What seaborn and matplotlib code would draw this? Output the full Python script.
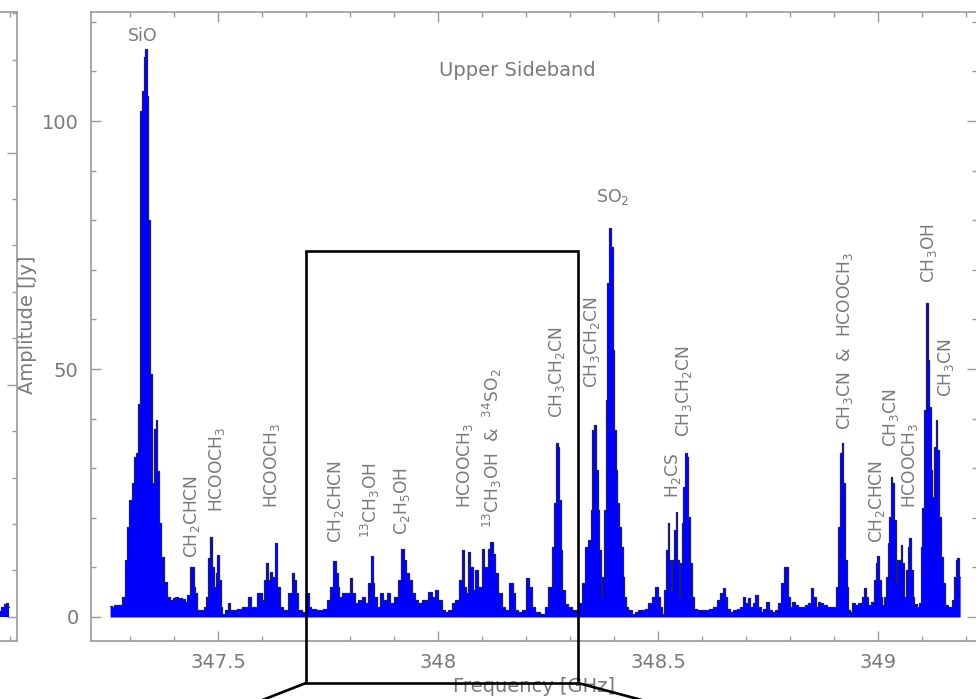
import matplotlib
matplotlib.use("Agg")
import matplotlib.pyplot as plt
import seaborn as sns
import pandas as pd
from matplotlib.ticker import MultipleLocator
from matplotlib.lines import Line2D
from matplotlib.patches import Rectangle

# ---------------- data ----------------
usb_freq = [
    347.254, 347.261, 347.267, 347.277, 347.286, 347.290, 347.295, 347.300, 347.306, 347.311,
    347.315, 347.320, 347.324, 347.329, 347.332, 347.336, 347.339, 347.343, 347.347, 347.352,
    347.356, 347.360, 347.363, 347.367, 347.373, 347.379, 347.386, 347.393, 347.399, 347.406,
    347.413, 347.420, 347.427, 347.433, 347.438, 347.442, 347.446, 347.449, 347.454, 347.463,
    347.470, 347.474, 347.478, 347.483, 347.488, 347.492, 347.496, 347.500, 347.504, 347.508,
    347.511, 347.520, 347.523, 347.530, 347.538, 347.549, 347.561, 347.572, 347.576, 347.583,
    347.595, 347.602, 347.606, 347.610, 347.614, 347.621, 347.625, 347.633, 347.636, 347.644,
    347.652, 347.663, 347.670, 347.674, 347.678, 347.686, 347.693, 347.704, 347.708, 347.715,
    347.731, 347.746, 347.750, 347.758, 347.765, 347.769, 347.773, 347.777, 347.784, 347.795,
    347.803, 347.807, 347.815, 347.822, 347.830, 347.837, 347.845, 347.849, 347.852, 347.856,
    347.864, 347.871, 347.879, 347.886, 347.894, 347.905, 347.913, 347.919, 347.924, 347.930,
    347.936, 347.943, 347.951, 347.958, 347.966, 347.974, 347.981, 347.989, 347.996, 348.004,
    348.011, 348.019, 348.027, 348.034, 348.042, 348.053, 348.057, 348.061, 348.065, 348.070,
    348.076, 348.080, 348.087, 348.095, 348.102, 348.106, 348.110, 348.116, 348.121, 348.127,
    348.133, 348.140, 348.148, 348.155, 348.167, 348.171, 348.178, 348.186, 348.193, 348.205,
    348.208, 348.216, 348.224, 348.239, 348.246, 348.254, 348.261, 348.265, 348.269, 348.273,
    348.277, 348.280, 348.284, 348.292, 348.299, 348.311, 348.318, 348.322, 348.330, 348.337,
    348.345, 348.349, 348.352, 348.356, 348.360, 348.364, 348.368, 348.371, 348.375, 348.379,
    348.383, 348.386, 348.390, 348.394, 348.398, 348.402, 348.405, 348.409, 348.413, 348.417,
    348.421, 348.424, 348.428, 348.436, 348.443, 348.451, 348.458, 348.466, 348.474, 348.481,
    348.489, 348.496, 348.502, 348.508, 348.511, 348.515, 348.519, 348.523, 348.527, 348.530,
    348.534, 348.538, 348.542, 348.545, 348.548, 348.552, 348.555, 348.559, 348.563, 348.567,
    348.570, 348.574, 348.578, 348.583, 348.595, 348.610, 348.621, 348.629, 348.636, 348.644,
    348.649, 348.654, 348.659, 348.667, 348.674, 348.682, 348.690, 348.695, 348.701, 348.707,
    348.712, 348.717, 348.724, 348.730, 348.735, 348.742, 348.748, 348.754, 348.761, 348.769,
    348.777, 348.783, 348.788, 348.793, 348.797, 348.803, 348.807, 348.815, 348.822, 348.830,
    348.837, 348.845, 348.850, 348.855, 348.860, 348.866, 348.871, 348.879, 348.886, 348.894,
    348.902, 348.907, 348.911, 348.915, 348.918, 348.922, 348.926, 348.930, 348.933, 348.937,
    348.943, 348.951, 348.958, 348.966, 348.970, 348.974, 348.980, 348.987, 348.993, 348.996,
    349.000, 349.004, 349.008, 349.011, 349.015, 349.019, 349.023, 349.027, 349.030, 349.034,
    349.038, 349.042, 349.045, 349.049, 349.053, 349.057, 349.061, 349.065, 349.068, 349.072,
    349.076, 349.080, 349.083, 349.091, 349.095, 349.099, 349.102, 349.106, 349.110, 349.114,
    349.117, 349.121, 349.125, 349.129, 349.133, 349.136, 349.140, 349.144, 349.148, 349.155,
    349.163, 349.171, 349.174, 349.178, 349.182, 349.186,
]
usb_amp = [
    2.2, 2.0, 2.4, 2.5, 4.1, 11.5, 18.2, 23.6, 27.0, 32.3,
    33.0, 43.0, 102.0, 106.0, 113.0, 114.5, 105.0, 80.0, 49.0, 27.0,
    38.0, 39.7, 29.5, 19.0, 12.0, 7.0, 4.0, 3.5, 3.8, 4.0,
    3.8, 3.6, 3.0, 4.5, 10.1, 10.0, 6.1, 4.8, 1.4, 1.4,
    2.0, 4.0, 11.8, 16.2, 10.0, 6.0, 8.8, 12.5, 7.5, 2.1,
    0.7, 1.4, 2.8, 1.5, 1.5, 1.6, 2.0, 4.1, 2.1, 2.1,
    4.8, 3.4, 7.5, 10.8, 7.5, 9.1, 8.0, 14.9, 6.1, 2.1,
    1.4, 4.8, 8.8, 7.5, 4.8, 1.4, 1.0, 4.8, 2.1, 1.6,
    1.5, 1.6, 3.4, 6.1, 11.2, 8.8, 6.1, 4.1, 4.8, 4.8,
    7.8, 4.8, 2.8, 3.4, 4.1, 2.8, 6.8, 12.2, 6.8, 4.1,
    2.1, 4.8, 3.4, 4.8, 2.8, 4.1, 7.5, 13.8, 11.5, 8.8,
    7.5, 4.8, 3.4, 2.8, 3.4, 3.4, 5.1, 4.1, 5.4, 3.4,
    1.4, 1.0, 1.4, 2.8, 3.4, 7.5, 13.5, 6.1, 4.8, 13.2,
    10.1, 5.4, 9.5, 6.1, 13.8, 10.1, 10.1, 13.8, 15.2, 12.8,
    8.8, 4.8, 2.1, 1.4, 6.8, 4.8, 1.4, 1.0, 1.4, 7.8,
    6.1, 2.1, 1.0, 0.7, 2.1, 6.1, 14.2, 22.9, 35.0, 34.3,
    23.5, 13.5, 5.4, 2.7, 2.1, 1.4, 1.1, 2.8, 6.8, 14.2,
    15.5, 21.6, 37.7, 38.7, 29.6, 21.6, 13.5, 4.1, 8.1, 21.6,
    43.8, 67.3, 78.4, 74.6, 53.8, 37.7, 29.6, 22.9, 18.2, 14.2,
    8.1, 4.1, 2.1, 1.4, 0.7, 1.1, 1.4, 1.4, 1.7, 2.8,
    4.1, 6.1, 4.1, 2.1, 0.7, 5.4, 13.5, 18.9, 11.5, 5.4,
    11.5, 17.5, 21.2, 11.5, 4.1, 10.8, 18.9, 26.3, 33.0, 32.3,
    20.2, 10.8, 4.1, 1.7, 1.4, 1.5, 1.7, 2.1, 3.4, 4.8,
    5.8, 4.1, 1.7, 1.1, 1.4, 1.7, 2.1, 4.1, 2.8, 3.8,
    2.1, 2.8, 4.4, 2.1, 1.1, 1.7, 3.1, 1.4, 1.1, 1.4,
    2.8, 6.8, 10.1, 10.1, 4.1, 2.1, 3.1, 2.4, 2.1, 2.1,
    2.4, 2.8, 5.8, 4.1, 2.1, 3.1, 2.8, 2.4, 2.1, 2.1,
    2.1, 6.1, 18.2, 33.0, 35.0, 27.0, 11.5, 6.1, 1.4, 1.1,
    2.8, 2.4, 2.8, 4.1, 5.8, 4.1, 2.4, 3.1, 7.4, 10.8,
    12.2, 7.4, 4.1, 2.4, 4.1, 8.1, 14.9, 20.2, 28.3, 27.0,
    19.5, 6.8, 11.5, 11.5, 14.5, 10.8, 4.1, 9.5, 14.2, 15.9,
    9.5, 4.1, 2.7, 2.1, 2.8, 14.2, 22.0, 41.7, 63.3, 51.8,
    42.3, 29.6, 24.2, 34.3, 39.7, 33.7, 20.2, 12.1, 6.9, 2.5,
    2.0, 3.5, 8.0, 11.5, 11.8, 8.0,
]
# edge of the neighbouring (lower sideband) panel, visible at the far left
lsb_freq = [339.172, 339.177, 339.182, 339.187, 339.192, 339.197]
lsb_amp = [1.0, 1.3, 2.2, 2.8, 3.0, 2.2]

line_labels = [
    r"CH$_2$CHCN", r"HCOOCH$_3$", r"HCOOCH$_3$", r"CH$_2$CHCN", r"$^{13}$CH$_3$OH",
    r"C$_2$H$_5$OH", r"HCOOCH$_3$", r"$^{13}$CH$_3$OH  &  $^{34}$SO$_2$", r"CH$_3$CH$_2$CN",
    r"CH$_3$CH$_2$CN", r"H$_2$CS", r"CH$_3$CH$_2$CN", r"CH$_3$CN  &  HCOOCH$_3$",
    r"CH$_2$CHCN", r"CH$_3$CN", r"HCOOCH$_3$", r"CH$_3$OH", r"CH$_3$CN",
]
line_freq = [
    347.440, 347.497, 347.622, 347.768, 347.845,
    347.918, 348.061, 348.124, 348.270,
    348.349, 348.533, 348.558, 348.924,
    348.997, 349.029, 349.072, 349.115, 349.154,
]
line_label_amp = [
    11.9, 21.2, 22.0, 14.9, 15.9,
    16.5, 22.0, 17.9, 40.1,
    46.2, 24.0, 36.3, 37.7,
    14.9, 34.3, 22.0, 67.3, 44.4,
]

# ---------------- style ----------------
sns.set_style("white")
plt.rcParams["font.family"] = ["DejaVu Sans"]
plt.rcParams["mathtext.default"] = "regular"
plt.rcParams["mathtext.fontset"] = "dejavusans"

GRAY_TXT = "#7a7a7a"
GRAY_AX = "#9a9a9a"
FILL = "#0000ff"
EDGE = "#1c1c70"

W, H = 976, 699
fig = plt.figure(figsize=(W / 100, H / 100), dpi=100)


def fx(px):
    return px / W


def fy(py):
    return 1 - py / H


def style_axes(a):
    for s in a.spines.values():
        s.set_color(GRAY_AX)
        s.set_linewidth(1.2)
    a.tick_params(which="both", direction="in", color=GRAY_AX, width=1.0,
                  labelcolor=GRAY_TXT, labelsize=14)
    a.tick_params(which="major", length=7.5)
    a.tick_params(which="minor", length=3.8)


# ---- neighbouring panel (only its right edge is visible) ----
ax0 = fig.add_axes([fx(17 - 886), fy(641), 886 / W, fy(12) - fy(641)])
df_l = pd.DataFrame({"freq": lsb_freq, "amp": lsb_amp})
ax0.fill_between(df_l["freq"], df_l["amp"], 0, step="mid", color=FILL, linewidth=0)
sns.lineplot(data=df_l, x="freq", y="amp", ax=ax0, color=EDGE, linewidth=0.9,
             drawstyle="steps-mid", legend=False)
ax0.set_xlim(337.20, 339.215)
ax0.set_ylim(-5.2, 130.3)
style_axes(ax0)
ax0.yaxis.set_major_locator(MultipleLocator(50))
ax0.yaxis.set_minor_locator(MultipleLocator(10))
ax0.xaxis.set_major_locator(MultipleLocator(0.5))
ax0.xaxis.set_minor_locator(MultipleLocator(0.1))
ax0.tick_params(which="both", left=False, right=True, top=True, bottom=True,
                labelleft=False, labelbottom=False)
ax0.set_xlabel("")
ax0.set_ylabel("")

# ---- main panel: upper sideband ----
ax = fig.add_axes([fx(91), fy(641), fx(977) - fx(91), fy(12) - fy(641)])
df = pd.DataFrame({"freq": usb_freq, "amp": usb_amp})
ax.fill_between(df["freq"], df["amp"], 0, step="mid", color=FILL, linewidth=0)
sns.lineplot(data=df, x="freq", y="amp", ax=ax, color=EDGE, linewidth=0.9,
             drawstyle="steps-mid", legend=False)

ax.set_xlim(347.2107, 349.2244)
ax.set_ylim(-4.84, 121.98)
style_axes(ax)
ax.xaxis.set_major_locator(MultipleLocator(0.5))
ax.xaxis.set_minor_locator(MultipleLocator(0.1))
ax.yaxis.set_major_locator(MultipleLocator(50))
ax.yaxis.set_minor_locator(MultipleLocator(10))
ax.tick_params(which="both", top=True, right=True, bottom=True, left=True)
ax.tick_params(axis="x", pad=9)
ax.tick_params(axis="y", pad=9)
ax.xaxis.set_major_formatter(plt.FuncFormatter(lambda v, p: f"{v:g}"))

ax.set_xlabel("Frequency [GHz]", fontsize=14, color=GRAY_TXT)
ax.set_ylabel("Amplitude [Jy]", fontsize=14, color=GRAY_TXT)
ax.xaxis.set_label_coords(0.5, -0.058)
ax.yaxis.set_label_coords(-0.061, 0.502)

ax.text(347.329, 117.1, "SiO", ha="center", va="center", fontsize=12.5, color=GRAY_TXT)
ax.text(348.179, 110.1, "Upper Sideband", ha="center", va="center", fontsize=14, color=GRAY_TXT)
ax.text(348.397, 84.7, r"SO$_2$", ha="center", va="center", fontsize=12.5, color=GRAY_TXT)
for lab, f, a in zip(line_labels, line_freq, line_label_amp):
    ax.text(f, a, lab, rotation=90, ha="center", va="bottom", fontsize=12.3, color=GRAY_TXT)

# ---- zoom box with connector lines toward an inset below ----
box = Rectangle((fx(306), fy(683)), fx(578) - fx(306), fy(251) - fy(683), fill=False,
                edgecolor="black", linewidth=1.9, transform=fig.transFigure, zorder=5)
fig.add_artist(box)
fig.add_artist(Line2D([fx(306), fx(183)], [fy(683), fy(731)], color="black",
                      linewidth=1.9, transform=fig.transFigure, zorder=5))
fig.add_artist(Line2D([fx(578), fx(758)], [fy(683), fy(731)], color="black",
                      linewidth=1.9, transform=fig.transFigure, zorder=5))

fig.savefig("out.png", dpi=100)
